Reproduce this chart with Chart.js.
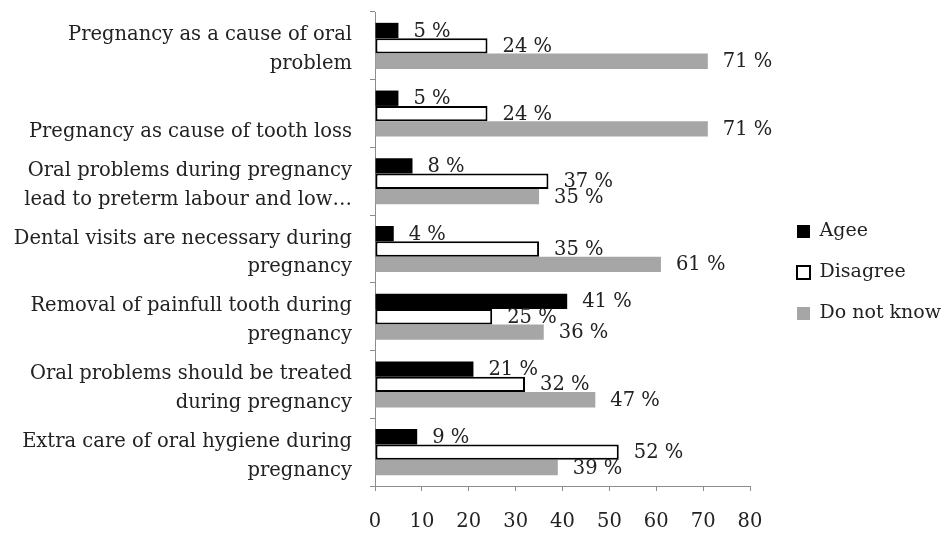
<!DOCTYPE html>
<html>
<head>
<meta charset="utf-8">
<script src="https://cdn.jsdelivr.net/npm/chart.js@4/dist/chart.umd.min.js"></script>
<style>
  body { margin: 0; background: #fff; }
</style>
</head>
<body>
<canvas id="oral-chart" width="949" height="533"></canvas>
<script>
// Categories (top to bottom)
const questions = [
    ['Pregnancy as a cause of oral', 'problem'],
    ['', 'Pregnancy as cause of tooth loss'],
    ['Oral problems during pregnancy', 'lead to preterm labour and low\u2026'],
    ['Dental visits are necessary during', 'pregnancy'],
    ['Removal of painfull tooth during', 'pregnancy'],
    ['Oral problems should be treated', 'during pregnancy'],
    ['Extra care of oral hygiene during', 'pregnancy']
];
const agreeValues = [5, 5, 8, 4, 41, 21, 9];
const disagreeValues = [24, 24, 37, 35, 25, 32, 52];
const dontKnowValues = [71, 71, 35, 61, 36, 47, 39];
const xTicks = [0, 10, 20, 30, 40, 50, 60, 70, 80];

const serif = 'DejaVu Serif';
const fontSize = 19.5;
const textColor = '#222';
const axisColor = '#8c8c8c';

// value labels to the right of each bar
const valueLabels = {
    id: 'valueLabels',
    afterDatasetsDraw(chart) {
        const ctx = chart.ctx;
        ctx.save();
        ctx.font = fontSize + 'px "' + serif + '"';
        ctx.fillStyle = textColor;
        ctx.textAlign = 'left';
        ctx.textBaseline = 'middle';
        chart.data.datasets.forEach((ds, i) => {
            chart.getDatasetMeta(i).data.forEach((bar, j) => {
                ctx.fillText(ds.data[j] + ' %', bar.x + 15, bar.y + 1);
            });
        });
        ctx.restore();
    }
};

const ctx = document.getElementById('oral-chart').getContext('2d');
const oralChart = new Chart(ctx, {
    type: 'bar',
    data: {
        labels: questions,
        datasets: [{
            label: 'Agee',
            data: agreeValues,
            backgroundColor: '#000000',
            borderWidth: 0
        }, {
            label: 'Disagree',
            data: disagreeValues,
            backgroundColor: '#ffffff',
            borderColor: '#000000',
            borderWidth: 2,
            borderSkipped: false
        }, {
            label: 'Do not know',
            data: dontKnowValues,
            backgroundColor: '#a6a6a6',
            borderWidth: 0
        }]
    },
    options: {
        indexAxis: 'y',
        responsive: false,
        animation: false,
        layout: {
            padding: { top: 12, left: 0, right: 0, bottom: 0 }
        },
        datasets: {
            bar: {
                categoryPercentage: 0.68,
                barPercentage: 1.0
            }
        },
        plugins: {
            legend: {
                display: true,
                position: 'right',
                maxWidth: 174,
                labels: {
                    boxWidth: 13,
                    boxHeight: 13,
                    padding: 22,
                    color: textColor,
                    font: { family: serif, size: 19 }
                }
            },
            tooltip: { enabled: false }
        },
        scales: {
            x: {
                type: 'linear',
                min: 0,
                max: 80,
                afterBuildTicks: function(scale) {
                    scale.ticks = xTicks.map(v => ({ value: v }));
                },
                afterFit: function(scale) {
                    scale.height = 47;
                },
                ticks: {
                    color: textColor,
                    padding: 19,
                    font: { family: serif, size: fontSize }
                },
                grid: {
                    drawOnChartArea: false,
                    tickLength: 5,
                    color: axisColor
                },
                border: { color: axisColor }
            },
            y: {
                afterFit: function(scale) {
                    scale.width = 375;
                    // labels sit inside their category band, no extra room needed
                    scale.paddingTop = 0;
                    scale.paddingBottom = 0;
                },
                ticks: {
                    color: textColor,
                    padding: 18,
                    labelOffset: 4,
                    font: { family: serif, size: fontSize, lineHeight: 1.48 }
                },
                grid: {
                    drawOnChartArea: false,
                    tickLength: 5,
                    color: axisColor
                },
                border: { color: axisColor }
            },
            // empty gap between plot and legend
            gap: {
                type: 'linear',
                position: 'right',
                display: true,
                ticks: { display: false },
                grid: { display: false },
                border: { display: false },
                afterFit: function(scale) {
                    scale.width = 25;
                }
            }
        }
    },
    plugins: [valueLabels]
});
</script>
</body>
</html>
